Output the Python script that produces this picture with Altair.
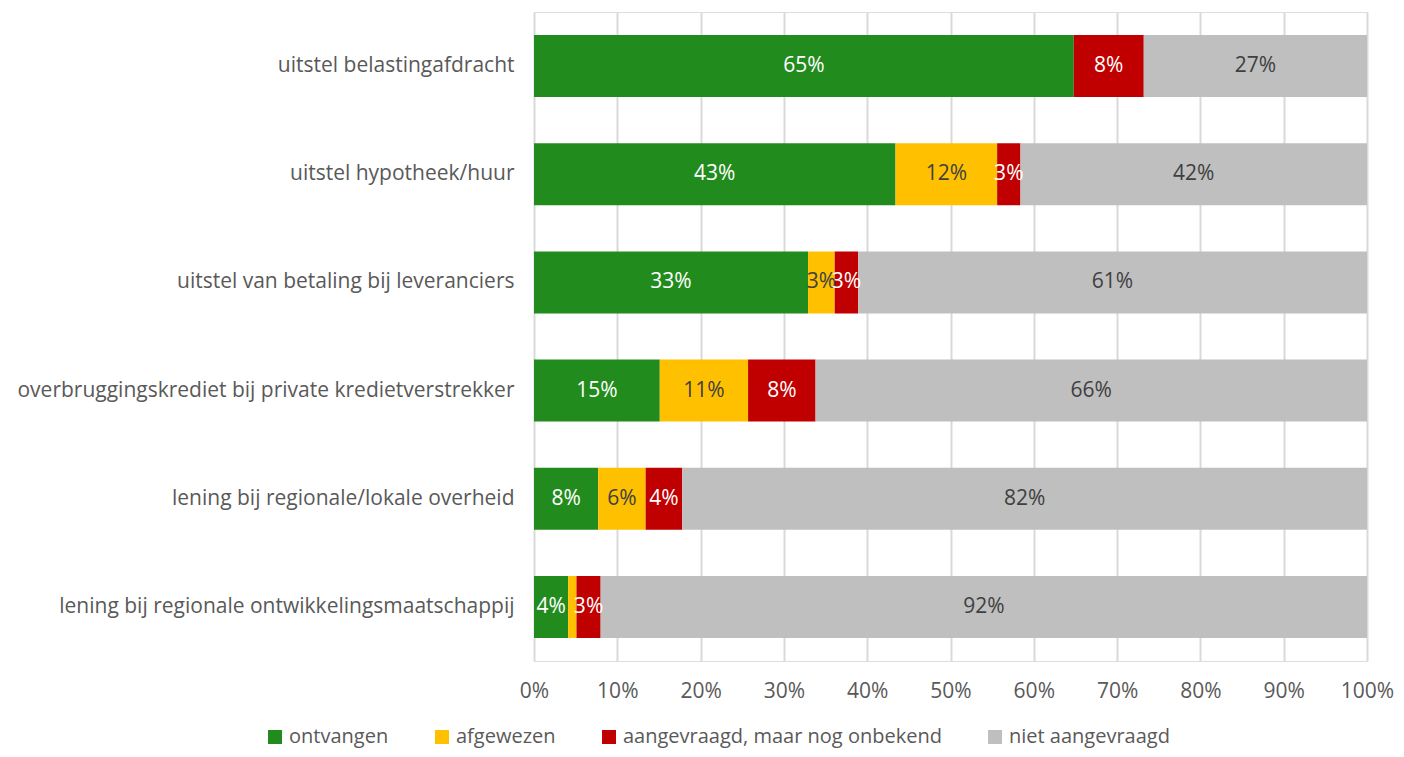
import altair as alt
import pandas as pd

categories = [
    "uitstel belastingafdracht",
    "uitstel hypotheek/huur",
    "uitstel van betaling bij leveranciers",
    "overbruggingskrediet bij private kredietverstrekker",
    "lening bij regionale/lokale overheid",
    "lening bij regionale ontwikkelingsmaatschappij",
]
series = ["ontvangen", "afgewezen", "aangevraagd, maar nog onbekend", "niet aangevraagd"]
ontvangen = [64.8, 43.4, 32.9, 15.1, 7.7, 4.1]
afgewezen = [0.0, 12.2, 3.2, 10.6, 5.7, 1.0]
aangevraagd = [8.4, 2.8, 2.8, 8.1, 4.4, 2.9]
niet = [26.8, 41.6, 61.1, 66.2, 82.2, 92.0]
colors = ["#228B1E", "#FFC000", "#C00000", "#BFBFBF"]
label_colors = ["white", "#404040", "white", "#404040"]

rows = []
for i, c in enumerate(categories):
    for j, (s, vals) in enumerate(zip(series, [ontvangen, afgewezen, aangevraagd, niet])):
        rows.append({"cat": c, "series": s, "value": vals[i], "order": j,
                     "lc": label_colors[j]})
df = pd.DataFrame(rows)

FONT = "Open Sans"
FS = 21
TXT = "#595959"

base = alt.Chart(df).transform_stack(
    stack="value", groupby=["cat"], as_=["x0", "x1"],
    sort=[alt.SortField("order", order="ascending")]
).transform_calculate(mid="(datum.x0 + datum.x1) / 2")

y = alt.Y("cat:N", sort=categories, title=None,
          scale=alt.Scale(paddingInner=0.427, paddingOuter=0.213),
          axis=alt.Axis(domain=False, ticks=False, grid=False, labelFontSize=FS,
                        labelColor=TXT, labelFont=FONT, labelPadding=20, labelLimit=800))

bars = base.mark_bar().encode(
    x=alt.X("x0:Q", scale=alt.Scale(domain=[0, 100], nice=False), title=None,
            axis=alt.Axis(values=list(range(0, 101, 10)), labelExpr="datum.value + '%'",
                          domain=False, ticks=False, grid=True, gridColor="#D9D9D9",
                          gridWidth=2, labelFontSize=FS, labelColor=TXT, labelFlush=False,
                          labelFont=FONT, labelPadding=19)),
    x2="x1:Q",
    y=y,
    color=alt.Color("series:N", sort=series,
                    scale=alt.Scale(domain=series, range=colors),
                    legend=alt.Legend(title=None, orient="none", direction="horizontal",
                                      legendX=-269, legendY=715, symbolType="square",
                                      symbolSize=196, symbolStrokeWidth=0,
                                      labelFontSize=20, labelColor=TXT, labelFont=FONT,
                                      labelLimit=600, labelOffset=4, columnPadding=43,
                                      symbolOpacity=1)),
    order=alt.Order("order:Q"),
)

texts = base.transform_filter("datum.value >= 2").mark_text(
    fontSize=FS, font=FONT, baseline="middle", align="center"
).encode(
    x=alt.X("mid:Q"),
    y=alt.Y("cat:N", sort=categories),
    text=alt.Text("label:N"),
    color=alt.Color("lc:N", scale=None),
).transform_calculate(label="format(datum.value, '.0f') + '%'")

chart = alt.layer(bars, texts).properties(
    width=833, height=649,
    autosize=alt.AutoSizeParams(type="none"),
    padding={"left": 526, "top": 4, "right": 29, "bottom": 88},
).configure_view(stroke="transparent", strokeWidth=0).configure(background="white")

chart.save("out.html", embed_options={"renderer": "svg", "actions": False})
